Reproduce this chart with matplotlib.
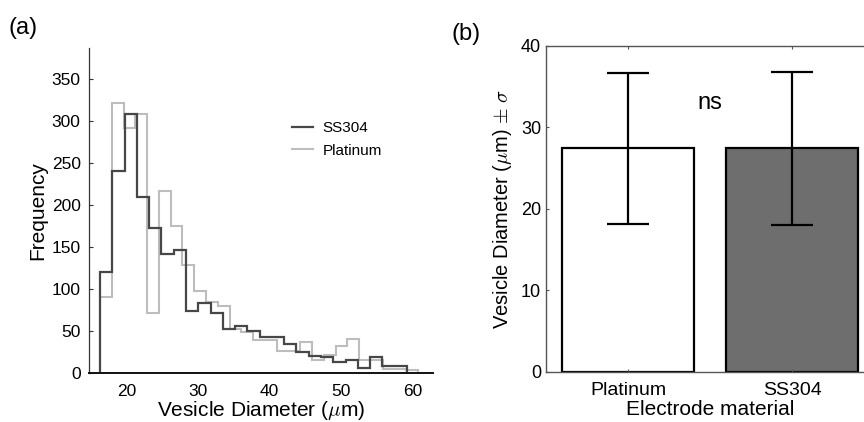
import numpy as np
import matplotlib
matplotlib.use('Agg')
import matplotlib.pyplot as plt

plt.rcParams['font.family'] = ['Liberation Sans', 'DejaVu Sans']
plt.rcParams['mathtext.fontset'] = 'cm'

# (a) histogram counts
ss304_counts = [120, 241, 309, 210, 173, 142, 147, 74, 84, 72, 52, 56, 50,
                43, 43, 35, 25, 20, 19, 13, 15, 6, 19, 8, 8]
ss304_range = (16.33, 59.15)
platinum_counts = [91, 322, 292, 309, 72, 217, 175, 129, 98, 85, 80, 53, 49,
                   39, 39, 26, 26, 37, 16, 22, 32, 41, 16, 16, 5, 5, 4]
platinum_range = (16.33, 60.70)

# (b) mean +- sigma
materials = ['Platinum', 'SS304']
mean_diam = [27.4, 27.4]
sigma_diam = [9.3, 9.4]

ss_edges = np.linspace(ss304_range[0], ss304_range[1], len(ss304_counts) + 1)
pt_edges = np.linspace(platinum_range[0], platinum_range[1], len(platinum_counts) + 1)

fig = plt.figure(figsize=(8.64, 4.22), dpi=100)

# ---- (a)
ax1 = fig.add_axes([0.103, 0.116, 0.398, 0.770])
ax1.stairs(platinum_counts, pt_edges, color='#bdbdbd', lw=1.5, label='Platinum')
ax1.stairs(ss304_counts, ss_edges, color='#474747', lw=1.6, label='SS304')
ax1.set_xlim(14.8, 62.75)
ax1.set_ylim(0, 387)
ax1.set_xticks([20, 30, 40, 50, 60])
ax1.set_yticks(range(0, 351, 50))
ax1.tick_params(axis='y', direction='in', length=3, width=0.8, labelsize=12.5,
                color='#333333', pad=6)
ax1.tick_params(axis='x', length=0, labelsize=12.5, pad=8)
for s in ['top', 'right']:
    ax1.spines[s].set_visible(False)
ax1.spines['left'].set_color('#333333')
ax1.spines['left'].set_linewidth(0.9)
ax1.spines['bottom'].set_linewidth(1.4)
ax1.spines['bottom'].set_color('#111111')
ax1.set_xlabel(r'Vesicle Diameter ($\mu$m)', fontsize=15, labelpad=0)
ax1.set_ylabel('Frequency', fontsize=15, labelpad=3)
h, l = ax1.get_legend_handles_labels()
ax1.legend(h[::-1], l[::-1], loc='upper left', bbox_to_anchor=(0.322, 0.745),
           bbox_transform=fig.transFigure, frameon=False, fontsize=11,
           handlelength=1.35, handletextpad=0.65, labelspacing=0.55)
fig.text(0.010, 0.933, '(a)', fontsize=17, va='center')

# ---- (b)
ax2 = fig.add_axes([0.632, 0.119, 0.3796, 0.7725])
pos = [1, 2]
ax2.bar(pos, mean_diam, width=0.8, color=['white', '#6e6e6e'],
        edgecolor='black', linewidth=1.6)
ax2.errorbar(pos, mean_diam, yerr=sigma_diam, fmt='none', ecolor='black',
             elinewidth=1.6, capsize=15, capthick=1.6)
ax2.set_xlim(0.5, 2.5)
ax2.set_ylim(0, 40)
ax2.set_xticks(pos)
ax2.set_xticklabels(materials)
ax2.set_yticks(range(0, 41, 10))
ax2.tick_params(direction='in', length=2.5, width=0.8, color='#555555',
                labelsize=13, top=True, right=False)
ax2.tick_params(axis='x', labelsize=14, pad=7)
for s in ax2.spines.values():
    s.set_color('#555555')
    s.set_linewidth(1.0)
ax2.set_xlabel('Electrode material', fontsize=15, labelpad=1)
ax2.set_ylabel(r'Vesicle Diameter ($\mu$m) $\pm$ $\sigma$', fontsize=14.5, labelpad=5)
ax2.text(1.5, 33.0, 'ns', fontsize=17, ha='center', va='center')
fig.text(0.522, 0.920, '(b)', fontsize=17, va='center')

fig.savefig('out.png', dpi=100)
